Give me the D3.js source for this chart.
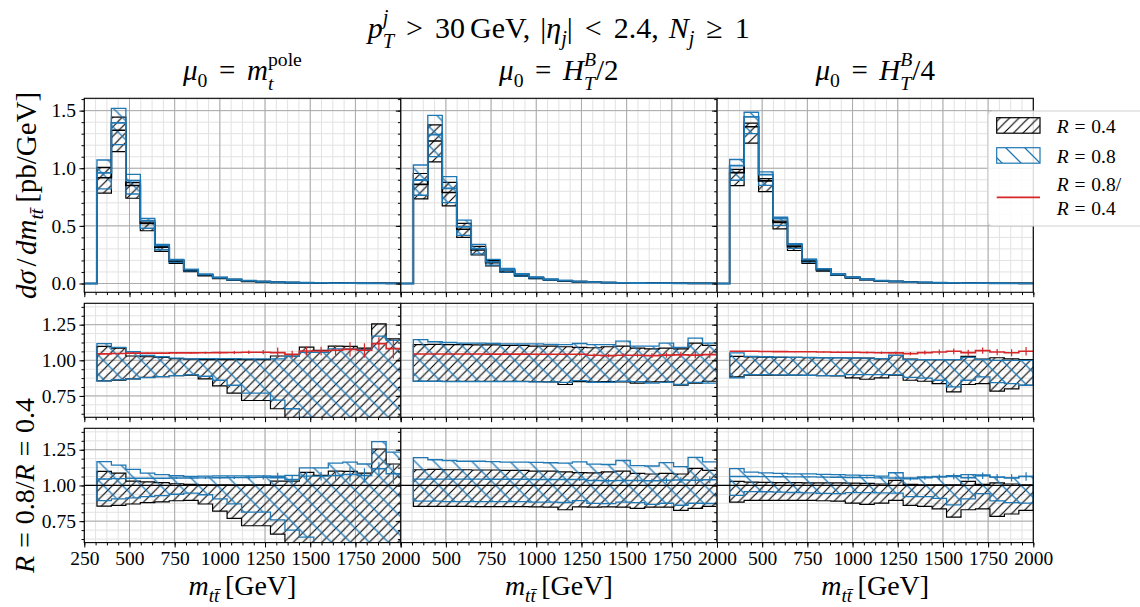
<!DOCTYPE html>
<html>
<head>
<meta charset="utf-8">
<script src="https://cdn.jsdelivr.net/npm/d3@7"></script>
<style>
  body { margin: 0; background: #fff; }
  svg text { font-family: "Liberation Serif", "DejaVu Serif", serif; white-space: pre; }
</style>
</head>
<body>
<svg id="chart" width="1140" height="607"></svg>
<script>
// ---- binning (GeV) ----
const binEdges = [320, 400, 480, 560, 640, 720, 800, 880, 960, 1040, 1120, 1200,
                  1280, 1360, 1440, 1520, 1600, 1680, 1760, 1840, 1920, 2000];

// ---- mu0 = m_t^pole ----
const xsecR04_mt = [0.918, 1.33, 0.85, 0.52, 0.315, 0.195, 0.115, 0.075, 0.050, 0.034, 0.023,
                    0.016, 0.011, 0.008, 0.0058, 0.0043, 0.0032, 0.0024, 0.0018, 0.0014, 0.0011];
const ratio_mt     = [1.045, 1.048, 1.05, 1.05, 1.05, 1.052, 1.052, 1.053, 1.054, 1.055, 1.056,
                      1.057, 1.054, 1.042, 1.065, 1.065, 1.07, 1.077, 1.07, 1.117, 1.082];
const ratioErr_mt  = [0.003, 0.003, 0.003, 0.004, 0.004, 0.005, 0.006, 0.007, 0.008, 0.010, 0.012,
                      0.015, 0.035, 0.025, 0.030, 0.030, 0.035, 0.050, 0.050, 0.045, 0.070];
const hiR04_mt = [1.098, 1.086, 1.03, 1.025, 1.02, 1.012, 1.008, 1.005, 1.005, 1.005, 1.005,
                  1.005, 1.03, 1.03, 1.092, 1.07, 1.10, 1.098, 1.086, 1.255, 1.15];
const loR04_mt = [0.855, 0.86, 0.87, 0.88, 0.885, 0.893, 0.896, 0.87, 0.82, 0.77, 0.718,
                  0.718, 0.66, 0.55, 0.50, 0.45, 0.45, 0.42, 0.42, 0.45, 0.45];
const hiR08_mt = [1.117, 1.09, 1.06, 1.035, 1.025, 1.015, 1.01, 1.012, 1.012, 1.012, 1.01,
                  1.01, 1.01, 1.028, 1.055, 1.055, 1.08, 1.08, 1.075, 1.17, 1.14];
const loR08_mt = [0.855, 0.865, 0.87, 0.878, 0.885, 0.892, 0.90, 0.888, 0.86, 0.825, 0.77,
                  0.77, 0.72, 0.66, 0.60, 0.55, 0.52, 0.50, 0.50, 0.50, 0.50];

// ---- mu0 = H_T^B/2 ----
const xsecR04_ht2 = [0.86, 1.237, 0.79, 0.47, 0.29, 0.18, 0.112, 0.073, 0.049, 0.033, 0.023,
                     0.016, 0.011, 0.008, 0.0058, 0.0042, 0.0031, 0.0023, 0.0017, 0.0013, 0.001];
const ratio_ht2    = [1.044, 1.044, 1.044, 1.044, 1.044, 1.043, 1.043, 1.043, 1.042, 1.042, 1.042,
                      1.042, 1.035, 1.033, 1.035, 1.035, 1.033, 1.036, 1.038, 1.036, 1.04];
const ratioErr_ht2 = [0.002, 0.002, 0.002, 0.003, 0.003, 0.004, 0.004, 0.005, 0.006, 0.007, 0.008,
                      0.010, 0.012, 0.012, 0.014, 0.015, 0.016, 0.018, 0.020, 0.022, 0.025];
const hiR04_ht2 = [1.11, 1.112, 1.11, 1.11, 1.108, 1.108, 1.105, 1.105, 1.10, 1.10, 1.095,
                   1.09, 1.088, 1.095, 1.10, 1.085, 1.08, 1.085, 1.08, 1.12, 1.105];
const loR04_ht2 = [0.853, 0.853, 0.853, 0.853, 0.852, 0.852, 0.852, 0.852, 0.85, 0.848, 0.83,
                   0.85, 0.848, 0.85, 0.848, 0.84, 0.848, 0.848, 0.825, 0.84, 0.853];
const hiR08_ht2 = [1.145, 1.13, 1.125, 1.12, 1.12, 1.118, 1.115, 1.115, 1.115, 1.112, 1.11,
                   1.118, 1.11, 1.11, 1.135, 1.10, 1.10, 1.12, 1.09, 1.155, 1.12];
const loR08_ht2 = [0.853, 0.853, 0.85, 0.85, 0.85, 0.85, 0.85, 0.85, 0.848, 0.848, 0.845,
                   0.858, 0.845, 0.845, 0.853, 0.85, 0.84, 0.845, 0.83, 0.845, 0.84];

// ---- mu0 = H_T^B/4 ----
const xsecR04_ht4 = [0.962, 1.36, 0.89, 0.53, 0.32, 0.195, 0.12, 0.078, 0.052, 0.035, 0.024,
                     0.017, 0.012, 0.0085, 0.0062, 0.0045, 0.0033, 0.0025, 0.0019, 0.0014, 0.0011];
const ratio_ht4    = [1.063, 1.063, 1.062, 1.061, 1.06, 1.06, 1.058, 1.057, 1.056, 1.055, 1.053,
                      1.052, 1.047, 1.054, 1.058, 1.063, 1.054, 1.068, 1.058, 1.053, 1.063];
const ratioErr_ht4 = [0.002, 0.002, 0.002, 0.003, 0.003, 0.004, 0.004, 0.005, 0.006, 0.007, 0.008,
                      0.010, 0.012, 0.014, 0.018, 0.020, 0.020, 0.022, 0.022, 0.025, 0.030];
const hiR04_ht4 = [1.028, 1.023, 1.022, 1.02, 1.02, 1.018, 1.018, 1.018, 1.016, 1.015, 1.01,
                   1.035, 1.008, 1.005, 1.005, 1.005, 1.028, 1.008, 1.018, 1.01, 1.005];
const loR04_ht4 = [0.883, 0.895, 0.895, 0.895, 0.895, 0.895, 0.893, 0.89, 0.876, 0.867, 0.876,
                   0.895, 0.86, 0.853, 0.836, 0.778, 0.83, 0.836, 0.783, 0.80, 0.825];
const hiR08_ht4 = [1.052, 1.028, 1.025, 1.022, 1.02, 1.02, 1.018, 1.018, 1.016, 1.015, 1.012,
                   1.035, 1.005, 1.005, 1.005, 1.005, 1.02, 1.005, 1.0, 1.0, 1.0];
const loR08_ht4 = [0.876, 0.90, 0.90, 0.898, 0.897, 0.895, 0.893, 0.892, 0.90, 0.90, 0.90,
                   0.90, 0.88, 0.875, 0.86, 0.813, 0.86, 0.883, 0.843, 0.836, 0.825];

// ---- ticks ----
const xTickValues = [250, 500, 750, 1000, 1250, 1500, 1750, 2000];
const topYTicks = [0.0, 0.5, 1.0, 1.5];
const ratioYTicks = [0.75, 1.00, 1.25];

// relation spacing (em) used in the math labels
const REL = 0.4;

// ---- column table ----
const columns = [
  { xs: xsecR04_mt,  r: ratio_mt,  err: ratioErr_mt,  hi4: hiR04_mt,  lo4: loR04_mt,  hi8: hiR08_mt,  lo8: loR08_mt,
    title: [{s:'μ', i:1}, {s:'0', l:'sub'}, {g:REL}, {s:'='}, {g:REL}, {s:'m', i:1}, {s:'pole', l:'sup', pair:1}, {s:'t', i:1, l:'sub', stack:1}] },
  { xs: xsecR04_ht2, r: ratio_ht2, err: ratioErr_ht2, hi4: hiR04_ht2, lo4: loR04_ht2, hi8: hiR08_ht2, lo8: loR08_ht2,
    title: [{s:'μ', i:1}, {s:'0', l:'sub'}, {g:REL}, {s:'='}, {g:REL}, {s:'H', i:1}, {s:'B', i:1, l:'sup', pair:1}, {s:'T', i:1, l:'sub', stack:1}, {s:'/2'}] },
  { xs: xsecR04_ht4, r: ratio_ht4, err: ratioErr_ht4, hi4: hiR04_ht4, lo4: loR04_ht4, hi8: hiR08_ht4, lo8: loR08_ht4,
    title: [{s:'μ', i:1}, {s:'0', l:'sub'}, {g:REL}, {s:'='}, {g:REL}, {s:'H', i:1}, {s:'B', i:1, l:'sup', pair:1}, {s:'T', i:1, l:'sub', stack:1}, {s:'/4'}] }
];

// ---- layout ----
const BLUE = '#1f77b4', RED = '#d62728';
const colLeft = [84.3, 400.7, 717.0], colW = 316.3;
const rowTop = [98.3, 303.3, 428.3], rowH = [194, 114, 114.3];
const TICK_FONT = 19.5, LABEL_FONT = 29;

const svg = d3.select('#chart');
const defs = svg.append('defs');

// hatch fills: dense "/" for R=0.4, sparse "\" for R=0.8
defs.append('pattern').attr('id', 'hatchR04').attr('patternUnits', 'userSpaceOnUse')
  .attr('width', 9.5).attr('height', 9.5)
  .append('path').attr('d', 'M-2.4,2.4 L2.4,-2.4 M0,9.5 L9.5,0 M7.1,11.9 L11.9,7.1')
  .attr('stroke', '#000').attr('stroke-width', 1.15).attr('fill', 'none');
defs.append('pattern').attr('id', 'hatchR08').attr('patternUnits', 'userSpaceOnUse')
  .attr('width', 19).attr('height', 19)
  .append('path').attr('d', 'M-4.75,14.25 L4.75,23.75 M0,0 L19,19 M14.25,-4.75 L23.75,4.75')
  .attr('stroke', BLUE).attr('stroke-width', 1.25).attr('fill', 'none');

const x = d3.scaleLinear().domain([250, 2000]).range([0, colW]);
const yTop = d3.scaleLinear().domain([-0.0765, 1.607]).range([rowH[0], 0]);
const yRatMid = d3.scaleLinear().domain([0.6, 1.4]).range([rowH[1], 0]);
const yRatBot = d3.scaleLinear().domain([0.6, 1.4]).range([rowH[2], 0]);

const xMinor = d3.range(250, 2000.1, 62.5);
const topMinor = d3.range(0, 1.61, 0.1);
const ratMinor = d3.range(0.625, 1.4, 0.0625);

// math-style label in one <text>: italic variables, raised/lowered scripts, explicit gaps (em)
function mathText(parent, parts, o) {
  const g = parent.append('g');
  const t = g.append('text').attr('fill', '#000');
  let cx = 0, scriptX = 0;
  parts.forEach(p => {
    if (p.g !== undefined) { cx += p.g * o.size; return; }
    const fs = p.l ? o.size * 0.68 : o.size;
    let dy = 0;
    if (p.l === 'sup') dy = -o.size * (p.pair ? 0.47 : 0.42);
    if (p.l === 'sub') dy = o.size * (p.stack ? 0.33 : 0.24);
    const px = p.stack ? scriptX : cx;
    const ts = t.append('tspan').attr('x', px).attr('y', dy)
      .style('font-size', fs + 'px').style('font-style', p.i ? 'italic' : 'normal')
      .text(p.s);
    const w = ts.node().getComputedTextLength();
    if (!p.stack) scriptX = cx;
    cx = Math.max(cx, px + w);
  });
  const shift = o.anchor === 'start' ? 0 : o.anchor === 'end' ? -cx : -cx / 2;
  t.attr('transform', `translate(${shift},0)`);
  g.attr('transform', `translate(${o.x},${o.y})` + (o.rot ? ` rotate(${o.rot})` : ''));
  return g;
}

// step helpers
function bandPoints(lo, hi, scale) {
  return binEdges.map((e, i) => {
    const k = Math.min(i, lo.length - 1);
    return { x: e, lo: scale(lo[k]), hi: scale(hi[k]) };
  });
}
function stepPoints(vals, withZeroStart) {
  const pts = binEdges.map((e, i) => ({ x: e, v: vals[Math.min(i, vals.length - 1)] }));
  if (withZeroStart) pts.unshift({ x: 250, v: 0 });
  return pts;
}
const area = d3.area().x(d => x(d.x)).y0(d => d.lo).y1(d => d.hi).curve(d3.curveStepAfter);

function drawGrid(g, y, h, yMaj, yMin) {
  const grid = g.append('g');
  grid.selectAll('.xmin').data(xMinor).join('line').attr('class', 'xmin')
    .attr('x1', d => x(d)).attr('x2', d => x(d)).attr('y1', 0).attr('y2', h)
    .attr('stroke', '#e2e2e2').attr('stroke-width', 1);
  grid.selectAll('.ymin').data(yMin).join('line').attr('class', 'ymin')
    .attr('x1', 0).attr('x2', colW).attr('y1', d => y(d)).attr('y2', d => y(d))
    .attr('stroke', '#e2e2e2').attr('stroke-width', 1);
  grid.selectAll('.xmaj').data(xTickValues).join('line').attr('class', 'xmaj')
    .attr('x1', d => x(d)).attr('x2', d => x(d)).attr('y1', 0).attr('y2', h)
    .attr('stroke', '#aaaaaa').attr('stroke-width', 1);
  grid.selectAll('.ymaj').data(yMaj).join('line').attr('class', 'ymaj')
    .attr('x1', 0).attr('x2', colW).attr('y1', d => y(d)).attr('y2', d => y(d))
    .attr('stroke', '#aaaaaa').attr('stroke-width', 1);
}

function drawAxes(g, y, h, yMaj, yMin, yFmt, showY, showX, col) {
  const ax = d3.axisLeft(y).tickValues(yMaj).tickSize(4.9).tickPadding(3.5)
    .tickFormat(showY ? yFmt : () => '');
  const axm = d3.axisLeft(y).tickValues(yMin).tickSize(2.8).tickFormat(() => '');
  const xv = col === 0 ? xTickValues : xTickValues.slice(1);
  const bx = d3.axisBottom(x).tickValues(xTickValues).tickSize(4.9).tickPadding(3.5)
    .tickFormat(d => (showX && xv.includes(d)) ? d3.format('d')(d) : '');
  const bxm = d3.axisBottom(x).tickValues(xMinor).tickSize(2.8).tickFormat(() => '');
  [ax, axm].forEach(a => g.append('g').call(a));
  [bx, bxm].forEach(a => g.append('g').attr('transform', `translate(0,${h})`).call(a));
  g.selectAll('.domain').remove();
  g.selectAll('.tick line').attr('stroke', '#000').attr('stroke-width', 1);
  g.selectAll('.tick text').style('font-size', TICK_FONT + 'px')
    .style('font-family', '"Liberation Serif", serif').attr('fill', '#000');
  g.append('rect').attr('x', 0).attr('y', 0).attr('width', colW).attr('height', h)
    .attr('fill', 'none').attr('stroke', '#000').attr('stroke-width', 1.1);
}

function drawErr(g, y, vals, errs, color) {
  g.selectAll(null).data(vals).join('line')
    .attr('x1', (d, i) => x((binEdges[i] + binEdges[i + 1]) / 2))
    .attr('x2', (d, i) => x((binEdges[i] + binEdges[i + 1]) / 2))
    .attr('y1', (d, i) => y(d - errs[i])).attr('y2', (d, i) => y(d + errs[i]))
    .attr('stroke', color).attr('stroke-width', 1.2);
}

columns.forEach((c, ci) => {
  const xsR08 = c.xs.map((v, i) => v * c.r[i]);
  const rowDefs = [
    { y: yTop, h: rowH[0], maj: topYTicks, min: topMinor, fmt: d3.format('.1f') },
    { y: yRatMid, h: rowH[1], maj: ratioYTicks, min: ratMinor, fmt: d3.format('.2f') },
    { y: yRatBot, h: rowH[2], maj: ratioYTicks, min: ratMinor, fmt: d3.format('.2f') }
  ];
  rowDefs.forEach((rd, ri) => {
    const g = svg.append('g').attr('transform', `translate(${colLeft[ci]},${rowTop[ri]})`);
    const cid = `clip-${ci}-${ri}`;
    defs.append('clipPath').attr('id', cid).append('rect')
      .attr('x', 0).attr('y', 0).attr('width', colW).attr('height', rd.h);
    drawGrid(g, rd.y, rd.h, rd.maj, rd.min);
    const body = g.append('g').attr('clip-path', `url(#${cid})`);
    const y = rd.y;
    let b4, b8;
    if (ri === 0) {
      b4 = bandPoints(c.xs.map((v, i) => v * c.lo4[i]), c.xs.map((v, i) => v * c.hi4[i]), y);
      b8 = bandPoints(xsR08.map((v, i) => v * c.lo8[i]), xsR08.map((v, i) => v * c.hi8[i]), y);
    } else if (ri === 1) {
      b4 = bandPoints(c.lo4, c.hi4, y);
      b8 = bandPoints(c.lo8, c.hi8, y);
    } else {
      b4 = bandPoints(c.lo4, c.hi4, y);
      b8 = bandPoints(c.r.map((v, i) => v * c.lo8[i]), c.r.map((v, i) => v * c.hi8[i]), y);
    }
    body.append('path').attr('d', area(b4)).attr('fill', 'url(#hatchR04)')
      .attr('stroke', '#000').attr('stroke-width', 1.2);
    body.append('path').attr('d', area(b8)).attr('fill', 'url(#hatchR08)')
      .attr('stroke', BLUE).attr('stroke-width', 1.3);

    const line = d3.line().x(d => x(d.x)).y(d => y(d.v)).curve(d3.curveStepAfter);
    if (ri === 0) {
      body.append('path').attr('d', line(stepPoints(c.xs, true))).attr('fill', 'none')
        .attr('stroke', '#000').attr('stroke-width', 1.6);
      body.append('path').attr('d', line(stepPoints(xsR08, true))).attr('fill', 'none')
        .attr('stroke', BLUE).attr('stroke-width', 1.8);
    } else if (ri === 1) {
      body.append('path').attr('d', line(stepPoints(c.r, false))).attr('fill', 'none')
        .attr('stroke', RED).attr('stroke-width', 1.6);
      drawErr(body, y, c.r, c.err, RED);
    } else {
      body.append('line').attr('x1', x(250)).attr('x2', x(2000))
        .attr('y1', y(1)).attr('y2', y(1)).attr('stroke', '#000').attr('stroke-width', 1.2);
      body.append('path').attr('d', line(stepPoints(c.r, false))).attr('fill', 'none')
        .attr('stroke', BLUE).attr('stroke-width', 1.4);
      drawErr(body, y, c.r, c.err, BLUE);
    }
    drawAxes(g, y, rd.h, rd.maj, rd.min, rd.fmt, ci === 0, ri === 2, ci);
  });

  // column title and x label
  mathText(svg, c.title, { x: colLeft[ci] + colW / 2, y: 80, size: LABEL_FONT });
  mathText(svg, [{s:'m', i:1}, {s:'tt̄', i:1, l:'sub'}, {g:0.2}, {s:'[GeV]'}],
    { x: colLeft[ci] + colW / 2, y: 595, size: 28 });
});

// figure title
mathText(svg, [{s:'p', i:1}, {s:'j', i:1, l:'sup', pair:1}, {s:'T', i:1, l:'sub', stack:1},
  {g:REL}, {s:'>'}, {g:REL}, {s:'30'}, {g:0.17}, {s:'GeV,'}, {g:0.33},
  {s:'|'}, {s:'η', i:1}, {s:'j', i:1, l:'sub'}, {s:'|'}, {g:REL}, {s:'<'}, {g:REL}, {s:'2.4,'}, {g:0.33},
  {s:'N', i:1}, {s:'j', i:1, l:'sub'}, {g:REL}, {s:'≥'}, {g:REL}, {s:'1'}],
  { x: colLeft[0] + 1.5 * colW, y: 38, size: 30 });

// y labels
mathText(svg, [{s:'dσ', i:1}, {g:0.12}, {s:'/'}, {g:0.12}, {s:'dm', i:1}, {s:'tt̄', i:1, l:'sub'}, {g:0.2}, {s:'[pb/GeV]'}],
  { x: 36, y: rowTop[0] + rowH[0] / 2, size: LABEL_FONT, rot: -90 });
mathText(svg, [{s:'R', i:1}, {g:0.28}, {s:'='}, {g:0.28}, {s:'0.8/'}, {s:'R', i:1}, {g:0.28}, {s:'='}, {g:0.28}, {s:'0.4'}],
  { x: 34, y: rowTop[2] + rowH[2] / 2, size: 28, rot: -90 });

// legend
const leg = svg.append('g').attr('transform', 'translate(988,111)');
leg.append('rect').attr('x', 0).attr('y', 0).attr('width', 170).attr('height', 115).attr('rx', 4)
  .attr('fill', '#fff').attr('fill-opacity', 0.85).attr('stroke', '#d0d0d0').attr('stroke-width', 1);
leg.append('rect').attr('x', 8.7).attr('y', 6.7).attr('width', 43.3).attr('height', 15.5)
  .attr('fill', 'url(#hatchR04)').attr('stroke', '#000').attr('stroke-width', 1.2);
leg.append('rect').attr('x', 8.7).attr('y', 36.7).attr('width', 43.3).attr('height', 15.5)
  .attr('fill', 'url(#hatchR08)').attr('stroke', BLUE).attr('stroke-width', 1.2);
leg.append('line').attr('x1', 8.7).attr('x2', 52).attr('y1', 86.3).attr('y2', 86.3)
  .attr('stroke', RED).attr('stroke-width', 1.8);
const legText = [
  { y: 22, parts: [{s:'R', i:1}, {g:0.3}, {s:'='}, {g:0.3}, {s:'0.4'}] },
  { y: 52, parts: [{s:'R', i:1}, {g:0.3}, {s:'='}, {g:0.3}, {s:'0.8'}] },
  { y: 80, parts: [{s:'R', i:1}, {g:0.3}, {s:'='}, {g:0.3}, {s:'0.8/'}] },
  { y: 104, parts: [{s:'R', i:1}, {g:0.3}, {s:'='}, {g:0.3}, {s:'0.4'}] }
];
legText.forEach(t => mathText(leg, t.parts, { x: 68.7, y: t.y, size: 19.5, anchor: 'start' }));
</script>
</body>
</html>
